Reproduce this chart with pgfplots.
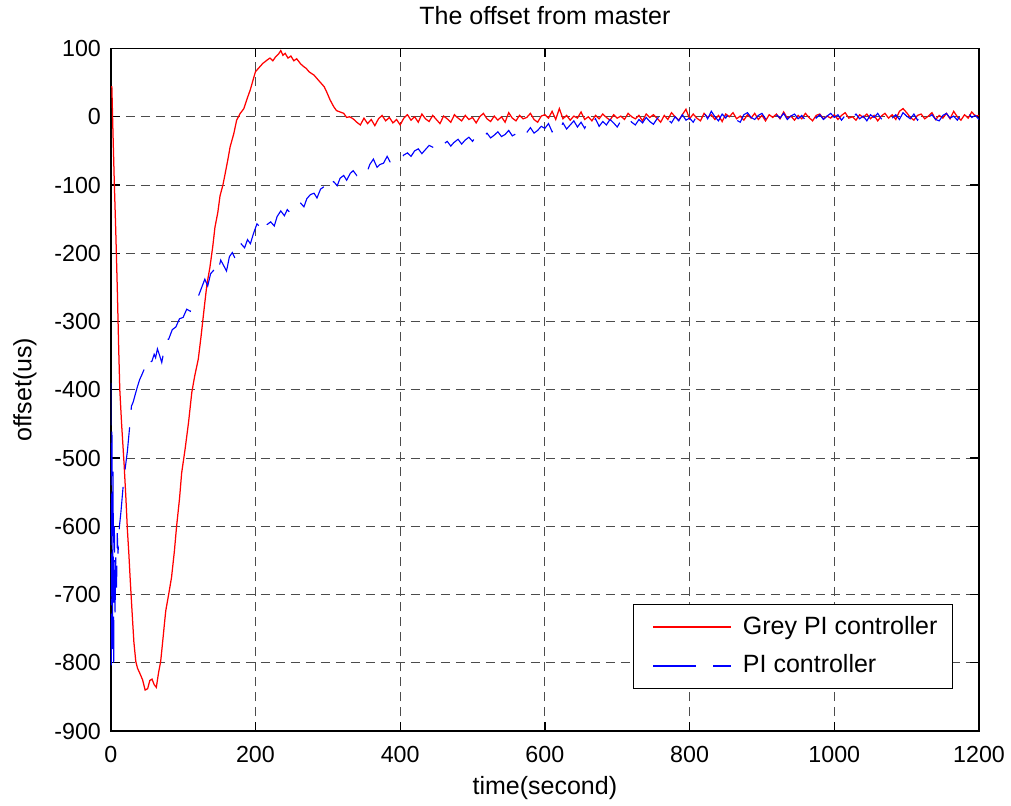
\documentclass[border=0pt]{standalone}
\usepackage{fontspec}
\setmainfont{Liberation Sans}
\usepackage{pgfplots}
\pgfplotsset{compat=1.18}
\begin{document}
\begin{tikzpicture}
\useasboundingbox (0,0) rectangle (404.4pt,322pt);
\begin{axis}[
  at={(44.3pt,29.6pt)}, anchor=south west,
  scale only axis, width=347.3pt, height=273pt,
  xmin=0, xmax=1200, ymin=-900, ymax=100,
  xtick={0,200,...,1200}, ytick={-900,-800,...,100},
  grid=major,
  major grid style={black!70, dash pattern=on 3.6pt off 2.4pt, line width=0.4pt},
  axis line style={line width=0.6pt},
  tick align=inside, tick pos=both, major tick length=3.5pt,
  every tick/.style={black, line width=0.5pt},
  /pgf/number format/assume math mode=true,
  /pgf/number format/1000 sep={},
  tick label style={font=\fontsize{9.3}{11}\selectfont},
  xticklabel style={anchor=center, yshift=-9.2pt},
  yticklabel style={anchor=east, xshift=-0.4pt},
  title={The offset from master},
  title style={at={(axis description cs:0.5,1.0476)}, anchor=center, yshift=-6pt, font=\fontsize{10}{12}\selectfont},
  xlabel={time(second)},
  xlabel style={at={(axis description cs:0.5,-0.0835)}, anchor=center, font=\fontsize{10}{12}\selectfont},
  ylabel={offset(us)},
  ylabel style={at={(axis description cs:-0.0988,0.5)}, anchor=center, font=\fontsize{10}{12}\selectfont},
  legend style={at={(axis description cs:0.970,0.0615)}, anchor=south east,
    inner xsep=1.5pt, inner ysep=1.5pt, row sep=0pt, font=\fontsize{10}{12}\selectfont,
    nodes={inner xsep=4.5pt, inner ysep=0pt, minimum height=15.3pt}},
  legend cell align=left,
  legend image code/.code={\path (-6.2pt,0pt); \draw[#1, line width=0.75pt] (0pt,0pt) -- (31pt,0pt);},
]
\addplot[color=red, line width=0.5pt] coordinates {
(1.5,45) (3,-20) (5,-100) (7,-170) (9,-250) (11,-340) (12.5,-400) (15,-450) (18.5,-510) (21,-560)
(23,-605) (25,-640) (27,-680) (30,-735) (32,-770) (34.6,-798) (37,-808) (40,-815) (44,-825) (47.5,-840)
(51,-838) (54,-826) (57,-824) (60,-832) (63,-836) (66,-815) (69,-798) (71.4,-773) (74,-745) (76,-724)
(80,-700) (84,-675) (88,-636) (91,-600) (95,-560) (98,-522) (103,-485) (107.5,-448) (112,-404) (116,-380)
(121,-355) (125,-320) (129.5,-277) (133,-245) (137,-221) (141,-190) (144,-162) (148,-140) (151,-116) (155,-100)
(158,-84) (162,-62) (165,-44) (170,-25) (174,-5) (179,5) (184,12) (188,25) (193,40) (197,55)
(200,66) (205,72) (210,78) (216,83) (220,86) (224,82) (228,88) (232,92) (235,97) (238,90)
(241,93) (245,86) (249,89) (253,82) (257,85) (262,78) (266,74) (270,71) (274,66) (278,63)
(281,61) (285,56) (290,50) (295,44) (299,35) (303,25) (308,15) (312,9) (317,7) (322,5) (326,-1)
(330,0) (335,-3) (340,-8) (345,-12) (350,-2) (355,-10) (360,-4) (365,-13) (370,-3) (375,2)
(380,-6) (385,-1) (390,-9) (395,-4) (400,-12) (405,-2) (410,3) (415,-5) (420,0) (425,-8)
(430,4) (435,-3) (440,-7) (445,2) (450,-4) (455,-10) (460,1) (465,-3) (470,-8) (475,3)
(480,-2) (485,-6) (490,2) (495,-4) (500,-1) (505,-9) (510,0) (515,5) (520,-3) (525,-7)
(530,1) (535,-5) (540,0) (545,-8) (550,6) (555,-2) (560,-6) (565,2) (570,-3) (575,-1)
(580,5) (585,-4) (590,-8) (595,1) (600,3) (605,-2) (610,8) (615,-4) (620,12) (625,-3)
(630,2) (635,-5) (640,1) (645,-2) (650,7) (655,-4) (660,0) (665,-6) (670,2) (675,-3)
(680,4) (685,-1) (690,-5) (695,3) (700,-2) (705,1) (710,-4) (715,5) (720,0) (725,-3)
(730,2) (735,-6) (740,4) (745,-1) (750,3) (755,-2) (760,-8) (765,2) (770,-4) (775,6)
(780,0) (785,-5) (790,3) (795,11) (800,-3) (805,4) (810,-2) (815,-6) (820,5) (825,-1)
(830,3) (835,-4) (840,2) (845,-7) (850,4) (855,0) (860,6) (865,-3) (870,1) (875,-5)
(880,3) (885,-2) (890,5) (895,-4) (900,2) (905,-6) (910,3) (915,-1) (920,4) (925,-3)
(930,7) (935,-2) (940,1) (945,-5) (950,2) (955,-3) (960,5) (965,-1) (970,-6) (975,2)
(980,4) (985,-3) (990,1) (995,-2) (1000,3) (1005,-4) (1010,2) (1015,6) (1020,-2) (1025,0)
(1030,-5) (1035,3) (1040,-1) (1045,4) (1050,-3) (1055,2) (1060,-6) (1065,1) (1070,5) (1075,-2)
(1080,3) (1085,-4) (1090,8) (1095,12) (1100,6) (1105,-1) (1110,-5) (1115,2) (1120,4) (1125,-3)
(1130,1) (1135,6) (1140,-4) (1145,2) (1150,-2) (1155,5) (1160,-3) (1165,8) (1170,0) (1175,-5)
(1180,3) (1185,-2) (1190,7) (1195,1) (1200,2)
};
\addlegendentry{Grey PI controller}
\addplot[color=blue, line width=0.45pt, dash pattern=on 17pt off 7pt] coordinates {
(0,-390) (0.8,-810) (1.6,-450) (2.4,-780) (3.2,-520) (4,-810) (5,-600) (6,-730) (7,-640) (8,-690)
(9,-610) (10,-640) (12,-600) (14,-580) (17.5,-537) (20,-515) (23,-490) (26.7,-448) (28.6,-424) (31,-418) (34.6,-404)
(37,-395) (40,-385) (43,-378) (47,-368) (50,-374) (54,-360) (57,-358) (60,-348) (62,-353) (64.5,-340)
(67,-348) (70.5,-360) (74,-340) (78,-326)
(80,-326) (85,-312) (90,-308) (95,-296) (100,-294) (105,-282) (110,-285) (115,-270) (120,-266) (125,-252)
(130,-238) (134,-248) (138,-230) (143,-224) (147,-232) (152,-210) (156,-218) (160,-226) (164,-205) (168,-199)
(172,-208) (176,-190) (180,-186) (185,-192) (189,-180) (193,-186) (197,-172) (202,-157) (207,-162) (212,-170)
(216,-158) (221,-154) (226,-160) (230,-146) (235,-138) (240,-145) (244,-136) (249,-142) (253,-140) (258,-130)
(262,-126) (267,-132) (271,-120) (276,-114) (281,-112) (285,-119) (290,-106) (294,-103) (299,-110) (303,-98)
(308,-95) (313,-101) (317,-90) (322,-86) (326,-93) (331,-83) (335,-79) (340,-86) (345,-80) (350,-77)
(354,-82) (358,-70) (363,-62) (368,-74) (372,-70) (377,-68) (382,-58) (386,-66) (391,-62) (396,-60)
(400,-64) (405,-56) (410,-53) (415,-58) (420,-50) (425,-47) (430,-54) (435,-48) (440,-42) (446,-45)
(450,-38) (455,-44) (460,-40) (465,-36) (470,-43) (474,-38) (480,-33) (485,-40) (490,-34) (495,-30)
(500,-36) (505,-28) (510,-33) (515,-30) (520,-24) (525,-31) (530,-27) (535,-22) (540,-29) (545,-26)
(550,-20) (555,-28) (560,-25) (565,-18) (570,-26) (575,-23) (580,-16) (585,-24) (590,-20) (595,-14)
(600,-17) (605,-10) (610,-22) (615,-14) (620,-20) (625,-9) (630,-18) (635,-12) (640,-6) (645,-15)
(650,-8) (655,-17) (660,-5) (665,-11) (670,-3) (675,-14) (680,-7) (685,-12) (690,-4) (695,-9)
(700,-15) (705,-6) (710,-10) (715,-2) (720,-8) (725,-12) (730,-4) (735,-9) (740,-1) (745,-7)
(750,-11) (755,-3) (760,2) (765,-8) (770,-4) (775,-9) (780,0) (785,-6) (790,3) (795,-5)
(800,-2) (805,-8) (810,1) (815,-4) (820,6) (825,-3) (830,8) (835,0) (840,-6) (845,4)
(850,-2) (855,9) (860,2) (865,-5) (870,-8) (875,3) (880,6) (885,-1) (890,-4) (895,2)
(900,5) (905,-3) (910,1) (915,-6) (920,3) (925,-2) (930,5) (935,-4) (940,1) (945,4)
(950,-3) (955,2) (960,-5) (965,0) (970,6) (975,-2) (980,3) (985,-4) (990,1) (995,5)
(1000,-1) (1005,3) (1010,-5) (1015,2) (1020,7) (1025,-2) (1030,4) (1035,-3) (1040,1) (1045,-6)
(1050,3) (1055,-1) (1060,5) (1065,-3) (1070,2) (1075,8) (1080,-2) (1085,3) (1090,-4) (1095,6)
(1100,1) (1105,-3) (1110,4) (1115,-5) (1120,2) (1125,6) (1130,-1) (1135,3) (1140,-4) (1145,-6)
(1150,2) (1155,5) (1160,-2) (1165,1) (1170,-5) (1175,3) (1180,-3) (1185,6) (1190,-1) (1195,2) (1200,-4)
};
\addlegendentry{PI controller}
\end{axis}
\end{tikzpicture}
\end{document}
